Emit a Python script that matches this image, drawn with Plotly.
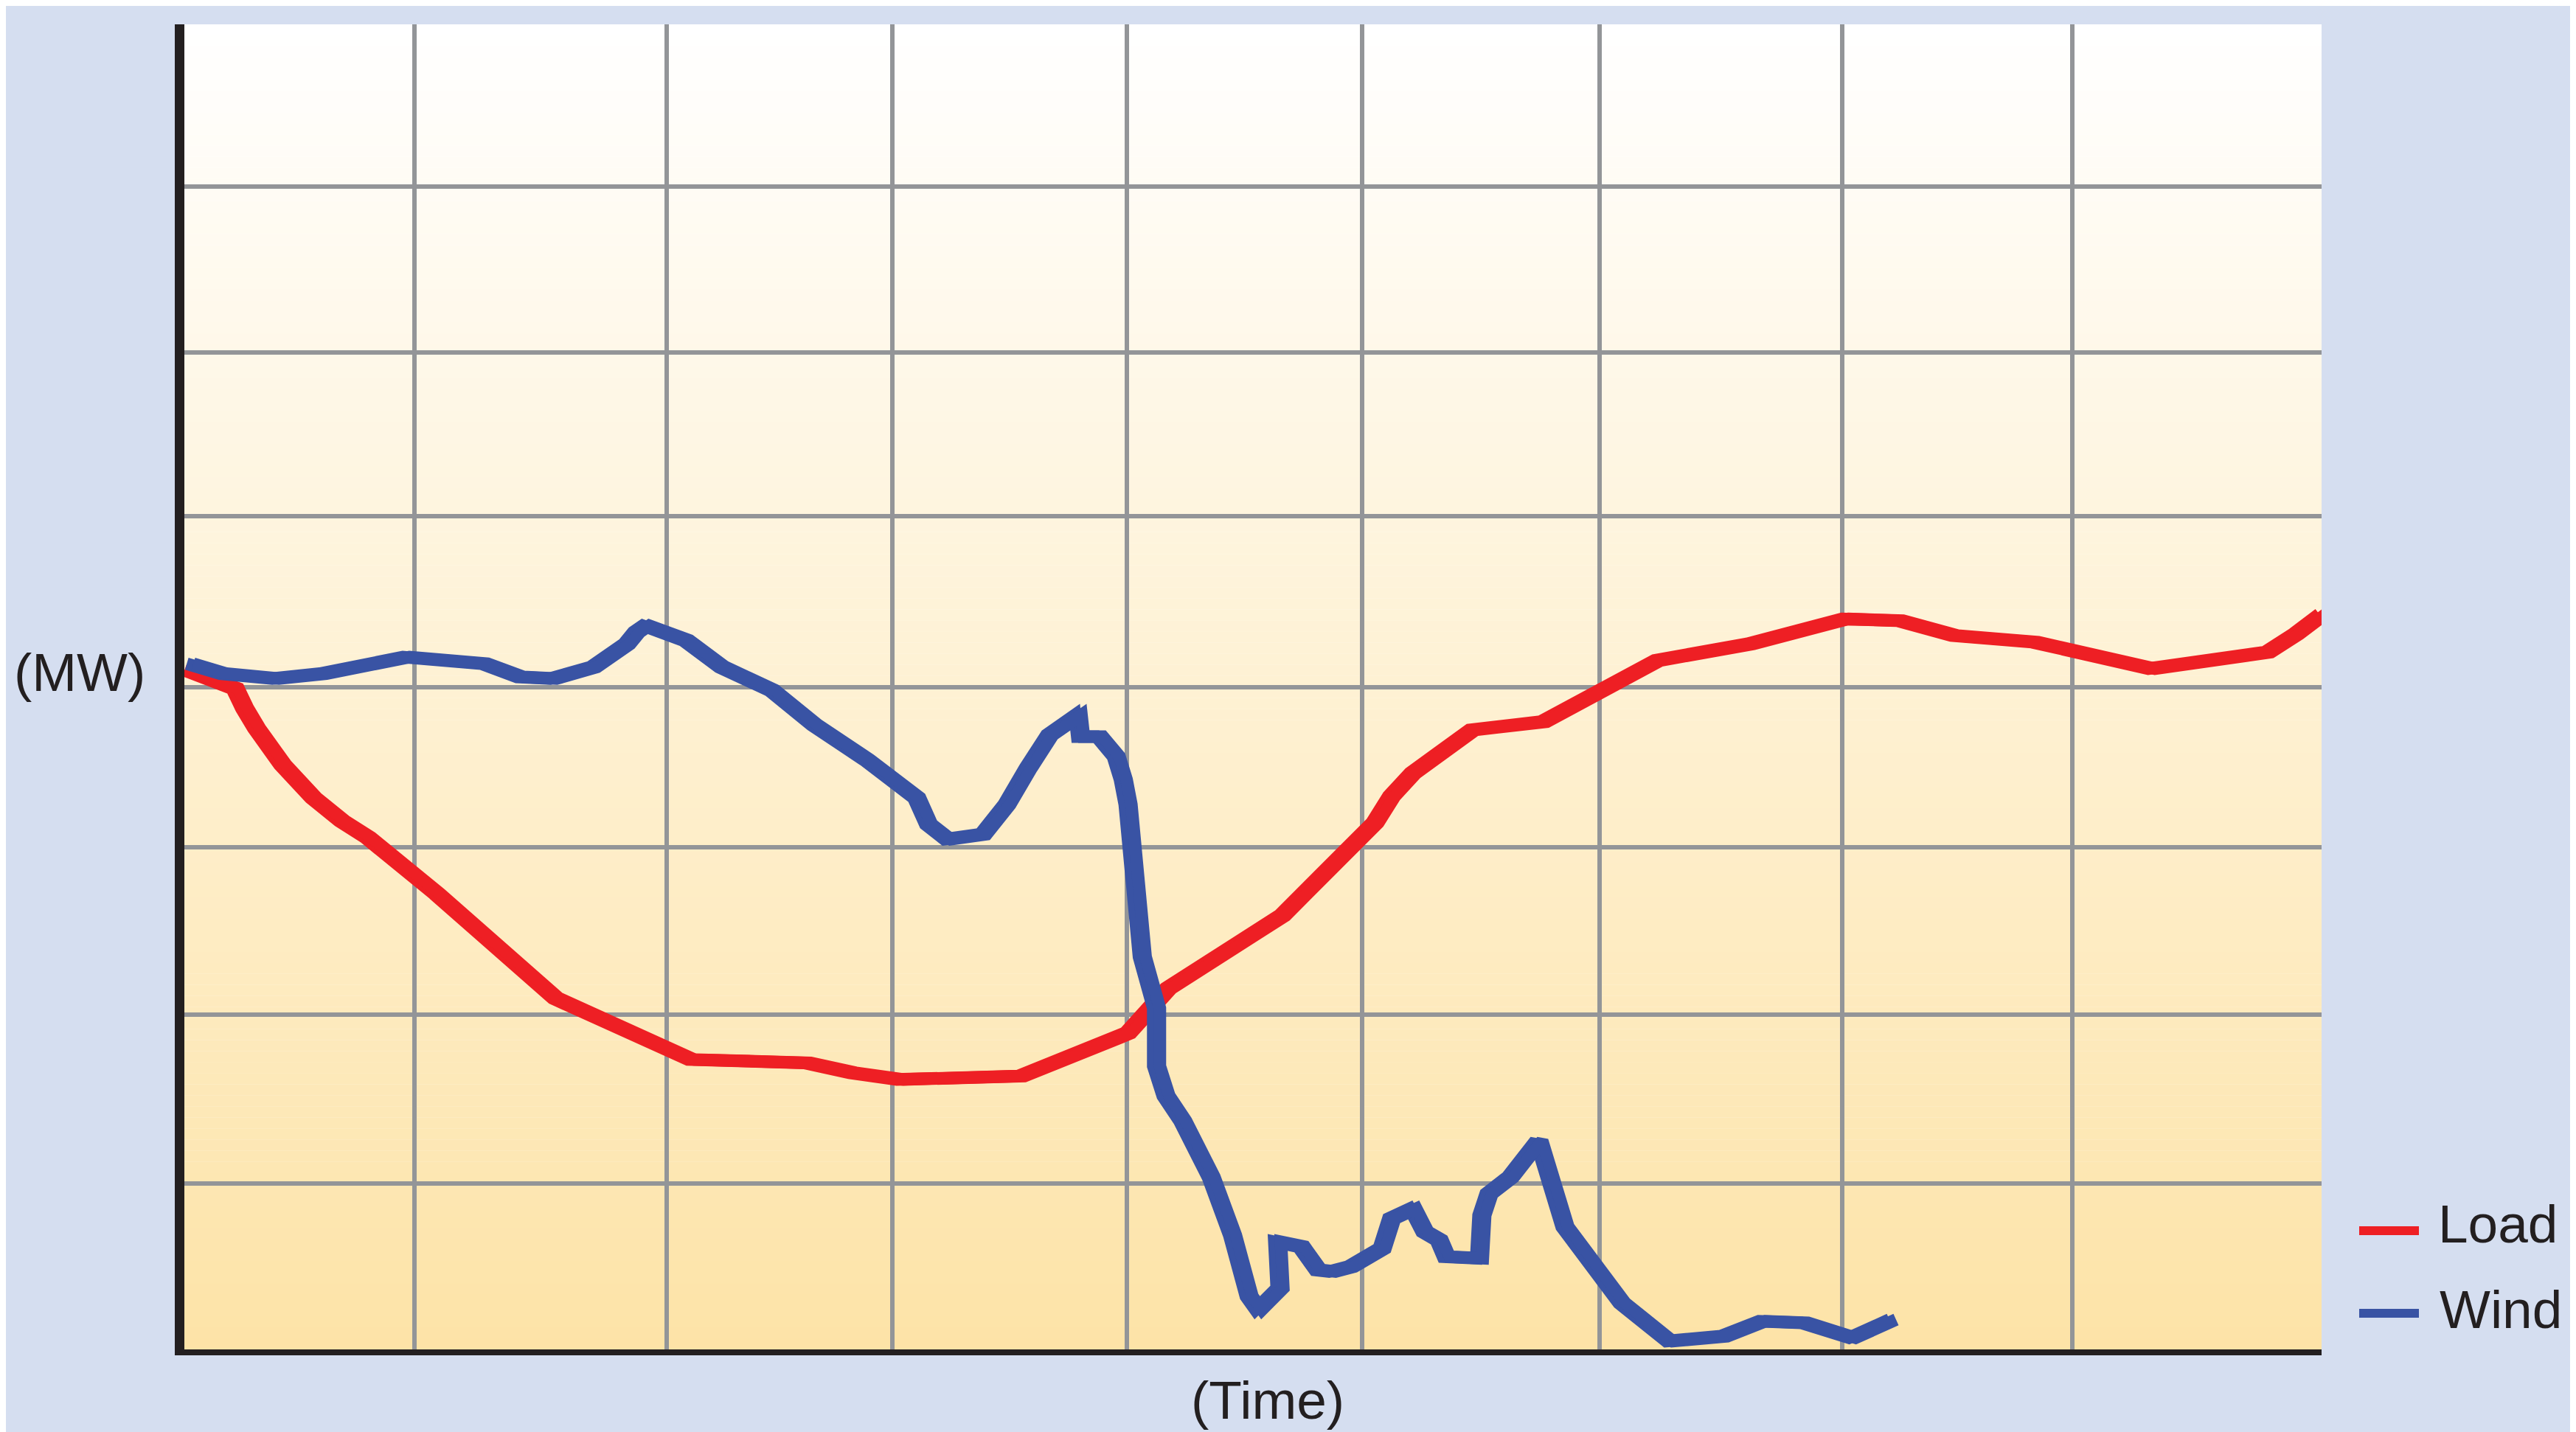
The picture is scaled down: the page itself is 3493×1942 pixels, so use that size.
import plotly.graph_objects as go

# ---------------- data ----------------
# x in grid-column units (0..9), y in grid-row units (0..8)
load_time = [0.00, 0.12, 0.20, 0.24, 0.29, 0.40, 0.53, 0.65, 0.76, 1.05,
             1.55, 2.12, 2.61, 2.80, 3.00, 3.51, 3.96, 4.13, 4.61, 5.00,
             5.07, 5.16, 5.41, 5.71, 6.19, 6.58, 6.98, 7.21, 7.44, 7.61,
             7.78, 8.27, 8.76, 8.88, 8.99]
load_mw = [4.10, 4.04, 3.99, 3.87, 3.75, 3.53, 3.33, 3.19, 3.09, 2.75,
           2.12, 1.75, 1.73, 1.67, 1.63, 1.65, 1.91, 2.18, 2.62, 3.18,
           3.34, 3.48, 3.74, 3.79, 4.16, 4.26, 4.41, 4.40, 4.31, 4.29,
           4.27, 4.11, 4.21, 4.32, 4.44]

wind_time = [0.01, 0.15, 0.37, 0.57, 0.92, 1.25, 1.40, 1.54, 1.71, 1.85,
             1.89, 1.93, 2.10, 2.25, 2.46, 2.64, 2.86, 3.07, 3.12, 3.20,
             3.35, 3.45, 3.54, 3.63, 3.75, 3.76, 3.84, 3.91, 3.94, 3.96,
             4.02, 4.05, 4.08, 4.08, 4.12, 4.19, 4.31, 4.40, 4.44, 4.47,
             4.51, 4.60, 4.59, 4.69, 4.76, 4.82, 4.90, 5.03, 5.07, 5.16,
             5.21, 5.27, 5.30, 5.44, 5.45, 5.48, 5.57, 5.64, 5.69, 5.80,
             6.04, 6.24, 6.47, 6.63, 6.81, 7.01, 7.18]
wind_mw = [4.14, 4.08, 4.05, 4.08, 4.18, 4.14, 4.06, 4.05, 4.12, 4.26,
           4.33, 4.37, 4.28, 4.12, 3.98, 3.77, 3.56, 3.33, 3.17, 3.08,
           3.11, 3.29, 3.51, 3.71, 3.83, 3.70, 3.70, 3.58, 3.44, 3.29,
           2.37, 2.21, 2.06, 1.71, 1.53, 1.38, 1.04, 0.69, 0.43, 0.32,
           0.24, 0.37, 0.65, 0.62, 0.48, 0.47, 0.50, 0.61, 0.79, 0.85,
           0.71, 0.66, 0.56, 0.55, 0.81, 0.94, 1.04, 1.16, 1.26, 0.74,
           0.28, 0.05, 0.08, 0.17, 0.16, 0.07, 0.18]

series_names = ["Load", "Wind"]
x_grid = [0.97, 2.03, 2.98, 3.97, 4.96, 5.96, 6.98, 7.95]
y_grid = [1.0, 2.02, 3.03, 4.0, 5.03, 6.02, 7.02]
x_range = [0, 9]
y_range = [0, 8]

# ---------------- style ----------------
BODY = 8                      # default page margin of the html body
W, H = 3493 - BODY, 1942 - BODY
ML, MR, MT, MB = 250 - BODY, 345, 33 - BODY, 112
PW, PH = W - ML - MR, H - MT - MB
PLOT_L, PLOT_B = 250, 1830     # page pixel position of plot left / bottom
RED = "#EE1F24"
BLUE = "#3953A4"
GRID = "#939598"
INK = "#231F20"
PAGE = "#D5DEF0"
FONT = "Liberation Sans, Arial, Helvetica, sans-serif"
LW = 17
NIB = 9 / PW * (x_range[1] - x_range[0])   # horizontal pen (nib) extent, in x units


def px_x(px):
    return (px - PLOT_L) / PW


def px_y(py):
    return (PLOT_B - py) / PH


fig = go.Figure()
for name, xs, ys, col in [(series_names[0], load_time, load_mw, RED),
                          (series_names[1], wind_time, wind_mw, BLUE)]:
    # calligraphic-pen look: the stroke is drawn twice, a nib-width apart
    for shift in (0.0, NIB):
        fig.add_trace(go.Scatter(x=[v + shift for v in xs], y=ys, mode="lines", name=name,
                                 line=dict(color=col, width=LW), showlegend=False,
                                 cliponaxis=False, hoverinfo="skip"))

shapes = []
# vertical gradient background (white top -> pale orange bottom) as thin bands below the grid
c_bot = (253, 227, 167)
c_top = (255, 255, 255)
n_bands = 120
span = y_range[1] - y_range[0]
for i in range(n_bands):
    t = (i + 0.5) / n_bands
    col = tuple(round(c_bot[k] + (c_top[k] - c_bot[k]) * t) for k in range(3))
    shapes.append(dict(type="rect", xref="x", yref="y", layer="below",
                       x0=x_range[0], x1=x_range[1],
                       y0=y_range[0] + span * i / n_bands,
                       y1=y_range[0] + span * (i + 1.02) / n_bands,
                       fillcolor="rgb(%d,%d,%d)" % col, line=dict(width=0)))

# axis lines (outside the plot area, as in the reference)
shapes.append(dict(type="line", xref="paper", yref="paper", layer="above",
                   x0=px_x(243.5), x1=px_x(243.5), y0=px_y(33), y1=px_y(1838),
                   line=dict(color=INK, width=13)))
shapes.append(dict(type="line", xref="paper", yref="paper", layer="above",
                   x0=px_x(237), x1=px_x(3148), y0=px_y(1834), y1=px_y(1834),
                   line=dict(color=INK, width=8)))
# legend swatches
shapes.append(dict(type="line", xref="paper", yref="paper", layer="above",
                   x0=px_x(3199), x1=px_x(3280), y0=px_y(1669), y1=px_y(1669),
                   line=dict(color=RED, width=12)))
shapes.append(dict(type="line", xref="paper", yref="paper", layer="above",
                   x0=px_x(3199), x1=px_x(3280), y0=px_y(1781), y1=px_y(1781),
                   line=dict(color=BLUE, width=12)))

tfont = dict(family=FONT, size=73, color=INK)
annotations = [
    dict(text="(MW)", xref="paper", yref="paper", x=px_x(108), y=px_y(911),
         xanchor="center", yanchor="middle", showarrow=False, font=tfont),
    dict(text="(Time)", xref="paper", yref="paper", x=px_x(1719), y=px_y(1898),
         xanchor="center", yanchor="middle", showarrow=False, font=tfont),
    dict(text=series_names[0], xref="paper", yref="paper", x=px_x(3304), y=px_y(1659),
         xanchor="left", yanchor="middle", showarrow=False, font=tfont),
    dict(text=series_names[1], xref="paper", yref="paper", x=px_x(3306), y=px_y(1775),
         xanchor="left", yanchor="middle", showarrow=False, font=tfont),
]

axis_common = dict(showticklabels=False, ticks="", zeroline=False, showline=False,
                   showgrid=True, gridcolor=GRID, gridwidth=5.5, fixedrange=True)
fig.update_layout(
    width=W, height=H,
    margin=dict(l=ML, r=MR, t=MT, b=MB, pad=0),
    paper_bgcolor=PAGE, plot_bgcolor="#FFFFFF",
    xaxis=dict(range=x_range, tickmode="array", tickvals=x_grid, **axis_common),
    yaxis=dict(range=y_range, tickmode="array", tickvals=y_grid, **axis_common),
    shapes=shapes, annotations=annotations,
    showlegend=False,
)

fig.write_html("out.html")
